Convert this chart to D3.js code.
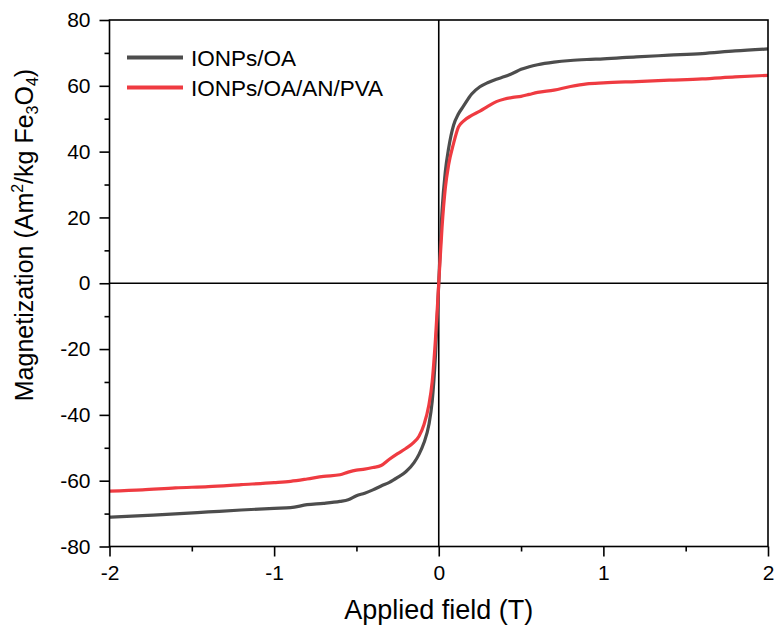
<!DOCTYPE html>
<html>
<head>
<meta charset="utf-8">
<script src="https://cdn.jsdelivr.net/npm/d3@7"></script>
<style>
  html, body { margin: 0; padding: 0; background: #fff; }
  svg { display: block; font-family: Arial, "Liberation Sans", sans-serif; }
</style>
</head>
<body>
<svg id="chart" width="774" height="629"></svg>
<script>
// ---- data ----
const fieldT = [-2, -1.8, -1.6, -1.4, -1.2, -1.0, -0.9, -0.8, -0.7, -0.6, -0.55, -0.5, -0.45, -0.4, -0.35, -0.3, -0.25, -0.2, -0.15, -0.12, -0.09, -0.06, -0.04, -0.02, 0, 0.02, 0.04, 0.06, 0.09, 0.12, 0.15, 0.2, 0.25, 0.3, 0.35, 0.4, 0.45, 0.5, 0.55, 0.6, 0.7, 0.8, 0.9, 1.0, 1.2, 1.4, 1.6, 1.8, 2.0];
const magOA = [-71.1, -70.6, -70.1, -69.5, -68.9, -68.4, -68.2, -67.3, -66.9, -66.3, -65.8, -64.6, -63.8, -62.8, -61.6, -60.5, -59.0, -57.3, -54.5, -52.0, -48.5, -43.0, -36.0, -22.0, 0, 22.0, 34.0, 41.0, 48.0, 51.5, 53.8, 57.5, 59.7, 61.0, 62.0, 62.8, 63.8, 65.0, 65.8, 66.4, 67.2, 67.7, 68.0, 68.2, 68.8, 69.3, 69.8, 70.6, 71.2];
const magOAANPVA = [-63.2, -62.8, -62.2, -61.8, -61.2, -60.6, -60.2, -59.5, -58.7, -58.2, -57.4, -56.8, -56.5, -56.0, -55.4, -53.5, -51.8, -50.2, -48.3, -46.5, -43.0, -37.0, -30.0, -17.0, 0, 17.0, 29.0, 36.0, 42.5, 47.5, 49.3, 51.0, 52.3, 53.8, 55.2, 56.0, 56.5, 56.8, 57.4, 58.0, 58.7, 59.8, 60.6, 60.9, 61.3, 61.7, 62.1, 62.7, 63.2];
const seriesNames = ["IONPs/OA", "IONPs/OA/AN/PVA"];
const seriesColors = ["#4d4d4d", "#ef3b41"];
const xTicks = [-2, -1, 0, 1, 2];
const xMinorTicks = [-1.5, -0.5, 0.5, 1.5];
const yTicks = [-80, -60, -40, -20, 0, 20, 40, 60, 80];
const yMinorTicks = [-70, -50, -30, -10, 10, 30, 50, 70];

// ---- layout ----
const W = 774, H = 629;
const margin = { left: 109.5, right: 6, top: 20, bottom: 82.5 };
const svg = d3.select("#chart");

const x = d3.scaleLinear().domain([-2, 2]).range([margin.left, W - margin.right]);
const y = d3.scaleLinear().domain([-80, 80]).range([H - margin.bottom, margin.top]);

// zero lines
svg.append("line").attr("x1", x(-2)).attr("x2", x(2)).attr("y1", y(0)).attr("y2", y(0))
  .attr("stroke", "#000").attr("stroke-width", 1.6);
svg.append("line").attr("x1", x(0)).attr("x2", x(0)).attr("y1", y(80)).attr("y2", y(-80))
  .attr("stroke", "#000").attr("stroke-width", 1.6);

// series
const seriesData = [magOA, magOAANPVA];
const line = d3.line().x(d => x(d[0])).y(d => y(d[1])).curve(d3.curveMonotoneX);
seriesData.forEach((vals, i) => {
  svg.append("path")
    .datum(fieldT.map((f, j) => [f, vals[j]]))
    .attr("fill", "none")
    .attr("stroke", seriesColors[i])
    .attr("stroke-width", 3.2)
    .attr("stroke-linejoin", "round")
    .attr("d", line);
});

// axes
const fmt = d => String(d);
const axisStyle = g => {
  g.selectAll(".domain").remove();
  g.selectAll("line").attr("stroke", "#000").attr("stroke-width", 1.6);
  g.selectAll("text").attr("fill", "#000").attr("font-size", 21)
    .attr("font-family", "Arial, 'Liberation Sans', sans-serif");
};
svg.append("g").attr("transform", `translate(0,${y(-80)})`)
  .call(d3.axisBottom(x).tickValues(xTicks).tickSize(10).tickPadding(9).tickFormat(fmt))
  .call(axisStyle);
svg.append("g").attr("transform", `translate(0,${y(-80)})`)
  .call(d3.axisBottom(x).tickValues(xMinorTicks).tickSize(5).tickFormat(""))
  .call(axisStyle);
svg.append("g").attr("transform", `translate(${x(-2)},0)`)
  .call(d3.axisLeft(y).tickValues(yTicks).tickSize(10).tickPadding(9).tickFormat(fmt))
  .call(axisStyle);
svg.append("g").attr("transform", `translate(${x(-2)},0)`)
  .call(d3.axisLeft(y).tickValues(yMinorTicks).tickSize(5).tickFormat(""))
  .call(axisStyle);

// frame
svg.append("rect").attr("x", x(-2)).attr("y", y(80))
  .attr("width", x(2) - x(-2)).attr("height", y(-80) - y(80))
  .attr("fill", "none").attr("stroke", "#000").attr("stroke-width", 1.6);

// axis titles
svg.append("text").attr("x", (x(-2) + x(2)) / 2).attr("y", 619)
  .attr("text-anchor", "middle").attr("font-size", 27).attr("fill", "#000")
  .text("Applied field (T)");

const yl = svg.append("text")
  .attr("transform", `translate(33,235) rotate(-90)`)
  .attr("text-anchor", "middle").attr("font-size", 25).attr("fill", "#000");
yl.append("tspan").text("Magnetization (Am");
yl.append("tspan").attr("font-size", 16).attr("dy", -10).text("2");
yl.append("tspan").attr("dy", 10).text("/kg Fe");
yl.append("tspan").attr("font-size", 16).attr("dy", 5).text("3");
yl.append("tspan").attr("dy", -5).text("O");
yl.append("tspan").attr("font-size", 16).attr("dy", 5).text("4");
yl.append("tspan").attr("dy", -5).text(")");

// legend
const legend = svg.append("g");
seriesNames.forEach((name, i) => {
  const ly = 57.5 + i * 30;
  legend.append("line").attr("x1", 127).attr("x2", 183).attr("y1", ly).attr("y2", ly)
    .attr("stroke", seriesColors[i]).attr("stroke-width", 4);
  legend.append("text").attr("x", 191).attr("y", ly).attr("dy", "0.36em")
    .attr("font-size", 22.5).attr("fill", "#000").text(name);
});
</script>
</body>
</html>
